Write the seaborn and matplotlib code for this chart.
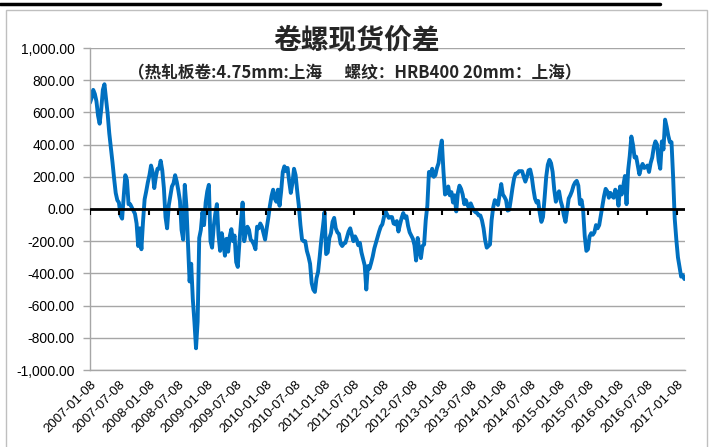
import matplotlib
matplotlib.use("Agg")
import matplotlib.pyplot as plt
import matplotlib.ticker as mticker
import matplotlib.dates as mdates
from matplotlib.lines import Line2D
from matplotlib.patches import Rectangle
import numpy as np
import pandas as pd
import seaborn as sns

# ---- data (one value every 10 days) ----
title = "卷螺现货价差"
subtitle = "（热轧板卷:4.75mm:上海      螺纹：HRB400 20mm：上海）"
start_date = "2007-01-08"
step = "10D"
spread = [
    660, 690, 740, 715, 670, 580, 530, 620, 740, 775,
    680, 590, 470, 380, 290, 190, 100, 55, 40, -40,
    -60, 80, 210, 180, 30, 30, 10, -10, -30, -90,
    -230, -120, -250, -80, 60, 110, 165, 210, 270, 230,
    130, 200, 250, 250, 300, 240, 130, -50, -120, 20,
    80, 140, 160, 210, 170, 115, 50, -130, -190, 150,
    20, -220, -450, -340, -560, -700, -865, -700, -180, -130,
    -20, -100, 40, 110, 150, -200, -240, -110, -30, 30,
    -160, -260, -150, -210, -290, -185, -265, -170, -125, -200,
    -165, -330, -360, -210, -80, 40, -200, -150, -110, -130,
    -190, -200, -220, -250, -110, -120, -90, -110, -150, -190,
    -120, -55, 20, 80, 120, 65, 45, 120, 20, 110,
    230, 265, 235, 255, 170, 100, 160, 250, 210, 110,
    20, -100, -190, -200, -200, -260, -295, -340, -460, -500,
    -515, -430, -390, -295, -190, -110, -20, -280, -270, -180,
    -150, -80, -55, -120, -145, -155, -215, -230, -215, -210,
    -175, -140, -120, -160, -200, -170, -190, -225, -210, -270,
    -310, -350, -500, -355, -370, -335, -295, -245, -210, -175,
    -140, -110, -95, -50, -15, -35, -55, -50, -50, -90,
    -95, -75, -140, -95, -55, -25, -55, -45, -105, -145,
    -165, -185, -225, -320, -180, -255, -305, -230, -220, -70,
    20, 230, 210, 250, 200, 210, 255, 285, 370, 425,
    240, 90, 100, 140, 85, 105, 40, 85, -15, 100,
    145, 125, 90, 30, 55, 25, 5, 35, 10, -10,
    -20, -25, -40, -40, -70, -120, -195, -240, -230, -220,
    -70, 10, 55, 45, 25, 90, 155, 90, 75, 55,
    -10, -5, 60, 130, 190, 220, 220, 235, 235, 235,
    200, 170, 200, 240, 245, 200, 125, 65, 40, 50,
    -25, -80, -50, 70, 200, 275, 305, 285, 230, 120,
    45, 90, 110, 50, 15, -40, -80, -10, 65, 85,
    110, 145, 165, 175, 145, 30, 55, -10, -170, -260,
    -250, -170, -150, -160, -145, -100, -120, -100, -40, 20,
    80, 125, 110, 70, 100, 80, 70, 120, 100, 20,
    140, 90, 145, 205, 30, 240, 330, 450, 400, 320,
    325, 270, 215, 255, 280, 255, 260, 270, 230, 285,
    320, 385, 420, 400, 300, 250, 420, 370, 555, 510,
    455, 415, 415, 200, -60, -190, -300, -360, -420, -410,
    -435,
]
tick_dates = pd.date_range("2007-01-08", "2017-01-08", freq=pd.DateOffset(months=6))
y_ticks = list(range(-1000, 1001, 200))

dates = pd.date_range(start_date, periods=len(spread), freq=step)
df = pd.DataFrame({"date": dates, "spread": spread})

sns.set_theme(style="white")
plt.rcParams["font.family"] = ["Noto Sans CJK SC", "DejaVu Sans"]

fig = plt.figure(figsize=(7.13, 4.47), dpi=100)
ax = fig.add_axes([90 / 713, 1 - 370 / 447, 595 / 713, 322 / 447])

sns.lineplot(data=df, x="date", y="spread", ax=ax, color="#0070C0", linewidth=2.8)

# zero line with its little tick marks (Excel category axis crossing at 0)
ax.axhline(0, color="black", linewidth=2, zorder=3)
ax.plot(tick_dates, np.zeros(len(tick_dates)), linestyle="none", marker=3,
        markersize=4, markeredgewidth=1.5, color="black", zorder=3)

ax.set_ylim(-1000, 1000)
ax.set_yticks(y_ticks)
ax.yaxis.set_major_formatter(mticker.FuncFormatter(lambda v, p: f"{v:,.2f}"))
ax.set_xlim(dates[0], dates[-1] + pd.Timedelta(days=4))
ax.set_xticks(tick_dates)
ax.xaxis.set_major_formatter(mdates.DateFormatter("%Y-%m-%d"))
ax.yaxis.grid(True, color="#A6A6A6", linewidth=1.0)
ax.xaxis.grid(False)
ax.set_axisbelow(True)

for s in ["top", "right"]:
    ax.spines[s].set_visible(False)
for s in ["left", "bottom"]:
    ax.spines[s].set_color("#A6A6A6")
    ax.spines[s].set_linewidth(1.0)

ax.tick_params(axis="y", which="major", left=True, length=5, width=1.0,
               color="#A6A6A6", pad=6, labelsize=10, labelcolor="black")
ax.tick_params(axis="x", which="major", bottom=True, length=0, pad=6,
               labelsize=9.5, labelcolor="black")
for lab in ax.get_xticklabels():
    lab.set_rotation(45)
    lab.set_ha("right")
    lab.set_rotation_mode("anchor")
for lab in ax.get_xticklabels() + ax.get_yticklabels():
    lab.set_family(["Liberation Sans", "DejaVu Sans"])

ax.set_xlabel("")
ax.set_ylabel("")

fig.text(0.5, 1 - 40 / 447, title, ha="center", va="center", fontsize=20,
         fontweight="bold")
fig.text(0.498, 1 - 73 / 447, subtitle, ha="center", va="center",
         fontsize=12, fontweight="bold")

# chart frame and the sheet border above it
fig.add_artist(Rectangle((6 / 713, -0.01), 701 / 713, 1 - 10 / 447 + 0.01,
                         transform=fig.transFigure, fill=False,
                         edgecolor="#BFBFBF", linewidth=1.0))
fig.add_artist(Line2D([0, 660 / 713], [1 - 4 / 447, 1 - 4 / 447],
                      transform=fig.transFigure, color="black", linewidth=2.5))

fig.savefig("out.png", dpi=100)
